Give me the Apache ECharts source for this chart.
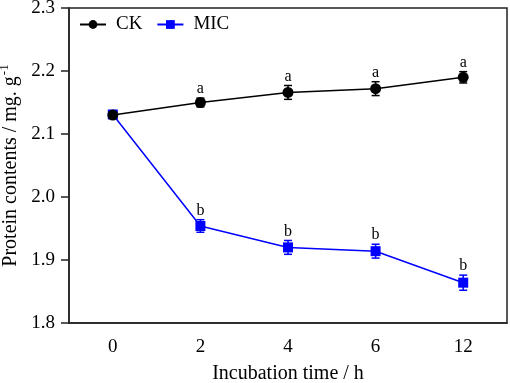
<!DOCTYPE html>
<html>
<head>
<meta charset="utf-8">
<script src="https://cdn.jsdelivr.net/npm/echarts@6/dist/echarts.min.js"></script>
<style>
html,body{margin:0;padding:0;background:#fff;}
#chart{width:510px;height:383px;}
</style>
</head>
<body>
<div id="chart"></div>
<script>
const categories = ['0', '2', '4', '6', '12'];
const ckValues = [2.130, 2.150, 2.166, 2.172, 2.190];
const ckErrors = [0.004, 0.007, 0.011, 0.011, 0.009];
const ckLetters = ['', 'a', 'a', 'a', 'a'];
const micValues = [2.131, 1.954, 1.920, 1.914, 1.864];
const micErrors = [0.004, 0.010, 0.011, 0.011, 0.012];
const micLetters = ['', 'b', 'b', 'b', 'b'];
const yTicks = { min: 1.8, max: 2.3, interval: 0.1 };

const FONT = 'Liberation Serif';
const chart = echarts.init(document.getElementById('chart'));

function errData(vals, errs, letters) {
  return vals.map((v, i) => [i, v - errs[i], v + errs[i], letters[i]]);
}
function errSeries(name, color, vals, errs, letters, z) {
  return {
    type: 'custom',
    name: name + '_err',
    z: z,
    silent: true,
    data: errData(vals, errs, letters),
    renderItem: function (params, api) {
      const x = api.value(0);
      const lo = api.coord([x, api.value(1)]);
      const hi = api.coord([x, api.value(2)]);
      const hw = 4;
      const st = { stroke: color, lineWidth: 1.5 };
      const children = [
        { type: 'line', shape: { x1: lo[0], y1: lo[1], x2: hi[0], y2: hi[1] }, style: st },
        { type: 'line', shape: { x1: lo[0] - hw, y1: lo[1], x2: lo[0] + hw, y2: lo[1] }, style: st },
        { type: 'line', shape: { x1: hi[0] - hw, y1: hi[1], x2: hi[0] + hw, y2: hi[1] }, style: st }
      ];
      const letter = letters[params.dataIndex];
      if (letter) {
        children.push({
          type: 'text',
          style: {
            text: letter, x: hi[0], y: hi[1] - 1,
            align: 'center', verticalAlign: 'bottom',
            font: '16px "' + FONT + '"', fill: '#000'
          }
        });
      }
      return { type: 'group', children: children };
    }
  };
}

const option = {
  animation: false,
  backgroundColor: '#fff',
  textStyle: { fontFamily: FONT },
  grid: {
    left: 69, right: 3, top: 8, bottom: 60,
    containLabel: false, outerBoundsMode: 'none',
    show: true, borderColor: '#222', borderWidth: 1.5
  },
  legend: {
    left: 74, top: 10,
    itemWidth: 26, itemHeight: 11, itemGap: 14,
    data: ['CK', 'MIC'],
    textStyle: { fontFamily: FONT, fontSize: 19, color: '#000', padding: [0, 0, 0, 5] }
  },
  xAxis: {
    type: 'category',
    data: categories,
    boundaryGap: true,
    name: 'Incubation time / h',
    nameLocation: 'middle',
    nameGap: 41,
    nameTextStyle: { fontFamily: FONT, fontSize: 20, color: '#000' },
    axisLine: { lineStyle: { color: '#222', width: 1.5 } },
    axisTick: { alignWithLabel: true, length: 8, lineStyle: { color: '#222', width: 1.5 } },
    axisLabel: { fontFamily: FONT, fontSize: 19, color: '#000', margin: 15 },
    splitLine: { show: false }
  },
  yAxis: {
    type: 'value',
    min: yTicks.min, max: yTicks.max, interval: yTicks.interval,
    name: 'Protein contents / mg. g{sup|-1}',
    nameLocation: 'middle',
    nameGap: 44,
    nameRotate: 90,
    nameTextStyle: {
      fontFamily: FONT, fontSize: 20, color: '#000',
      rich: { sup: { fontFamily: FONT, fontSize: 13, color: '#000', verticalAlign: 'top', padding: [0, 0, 11, 1] } }
    },
    axisLine: { show: true, lineStyle: { color: '#222', width: 1.5 } },
    axisTick: { show: true, length: 8, lineStyle: { color: '#222', width: 1.5 } },
    axisLabel: { fontFamily: FONT, fontSize: 19, color: '#000', margin: 14, formatter: v => v.toFixed(1) },
    splitLine: { show: false }
  },
  series: [
    errSeries('MIC', '#0000ff', micValues, micErrors, micLetters, 2),
    {
      type: 'line', name: 'MIC', data: micValues, z: 3,
      symbol: 'rect', symbolSize: 10,
      itemStyle: { color: '#0000ff' },
      lineStyle: { color: '#0000ff', width: 1.5 }
    },
    errSeries('CK', '#000', ckValues, ckErrors, ckLetters, 4),
    {
      type: 'line', name: 'CK', data: ckValues, z: 5,
      symbol: 'circle', symbolSize: 11,
      itemStyle: { color: '#000' },
      lineStyle: { color: '#000', width: 1.5 }
    }
  ]
};
chart.setOption(option);
</script>
</body>
</html>
